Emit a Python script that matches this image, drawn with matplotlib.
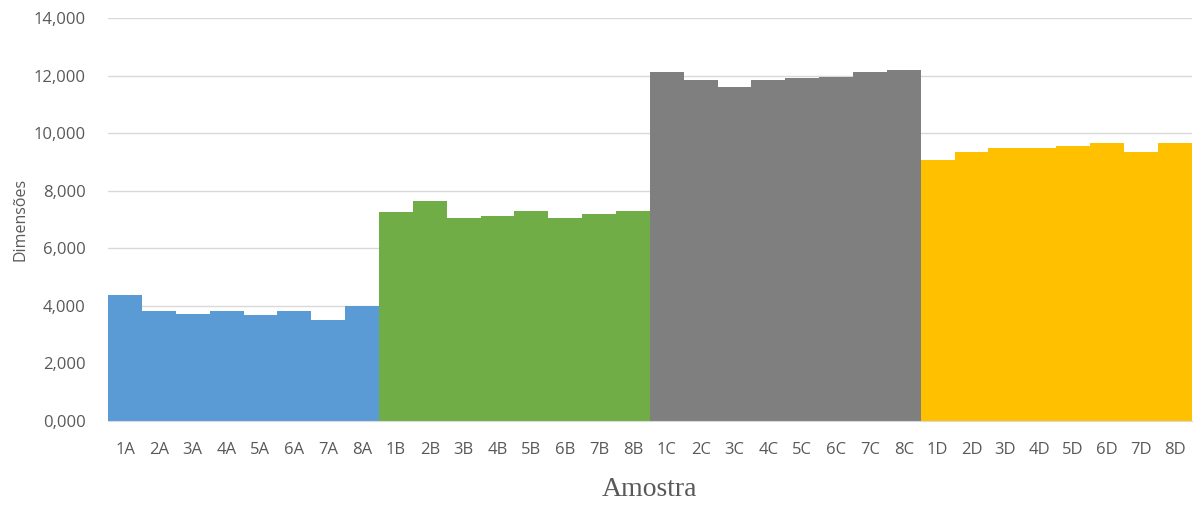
import matplotlib.pyplot as plt
import numpy as np

# amostras e dimensões
grupo_a = ['1A', '2A', '3A', '4A', '5A', '6A', '7A', '8A']
grupo_b = ['1B', '2B', '3B', '4B', '5B', '6B', '7B', '8B']
grupo_c = ['1C', '2C', '3C', '4C', '5C', '6C', '7C', '8C']
grupo_d = ['1D', '2D', '3D', '4D', '5D', '6D', '7D', '8D']

valores_a = [4390, 3820, 3720, 3820, 3680, 3820, 3510, 3980]
valores_b = [7250, 7650, 7040, 7130, 7280, 7040, 7180, 7280]
valores_c = [12130, 11860, 11610, 11860, 11910, 11950, 12130, 12180]
valores_d = [9080, 9330, 9500, 9500, 9550, 9650, 9330, 9650]

cores = ['#5B9BD5', '#70AD47', '#7F7F7F', '#FFC000']

labels = grupo_a + grupo_b + grupo_c + grupo_d
grupos = [valores_a, valores_b, valores_c, valores_d]

fig = plt.figure(figsize=(11.94, 5.05), dpi=100)
ax = fig.add_axes([0.0905, 0.1663, 0.9075, 0.7981])

pos = 0
for vals, cor in zip(grupos, cores):
    x = np.arange(pos, pos + len(vals))
    ax.bar(x, vals, width=1.0, color=cor, zorder=2)
    pos += len(vals)

ax.set_xlim(-0.5, len(labels) - 0.5)
ax.set_ylim(0, 14000)
yt = list(range(0, 14001, 2000))
ax.set_yticks(yt)
ax.set_yticklabels(['{},000'.format(v // 1000) for v in yt])
ax.set_xticks(range(len(labels)))
ax.set_xticklabels(labels)

ax.grid(axis='y', color='#D9D9D9', linewidth=1, zorder=0)
for s in ['top', 'right', 'left']:
    ax.spines[s].set_visible(False)
ax.spines['bottom'].set_color('#D9D9D9')
ax.tick_params(axis='both', length=0, colors='#595959', labelsize=12)
ax.tick_params(axis='y', pad=16)
ax.tick_params(axis='x', pad=15)
for t in ax.get_xticklabels() + ax.get_yticklabels():
    t.set_family('Open Sans')

ax.set_ylabel('Dimensões', family='Open Sans', fontsize=11.5, color='#595959', labelpad=4)
ax.set_xlabel('Amostra', family='Liberation Serif', fontsize=20, color='#595959', labelpad=14)

plt.savefig('out.png', dpi=100)
